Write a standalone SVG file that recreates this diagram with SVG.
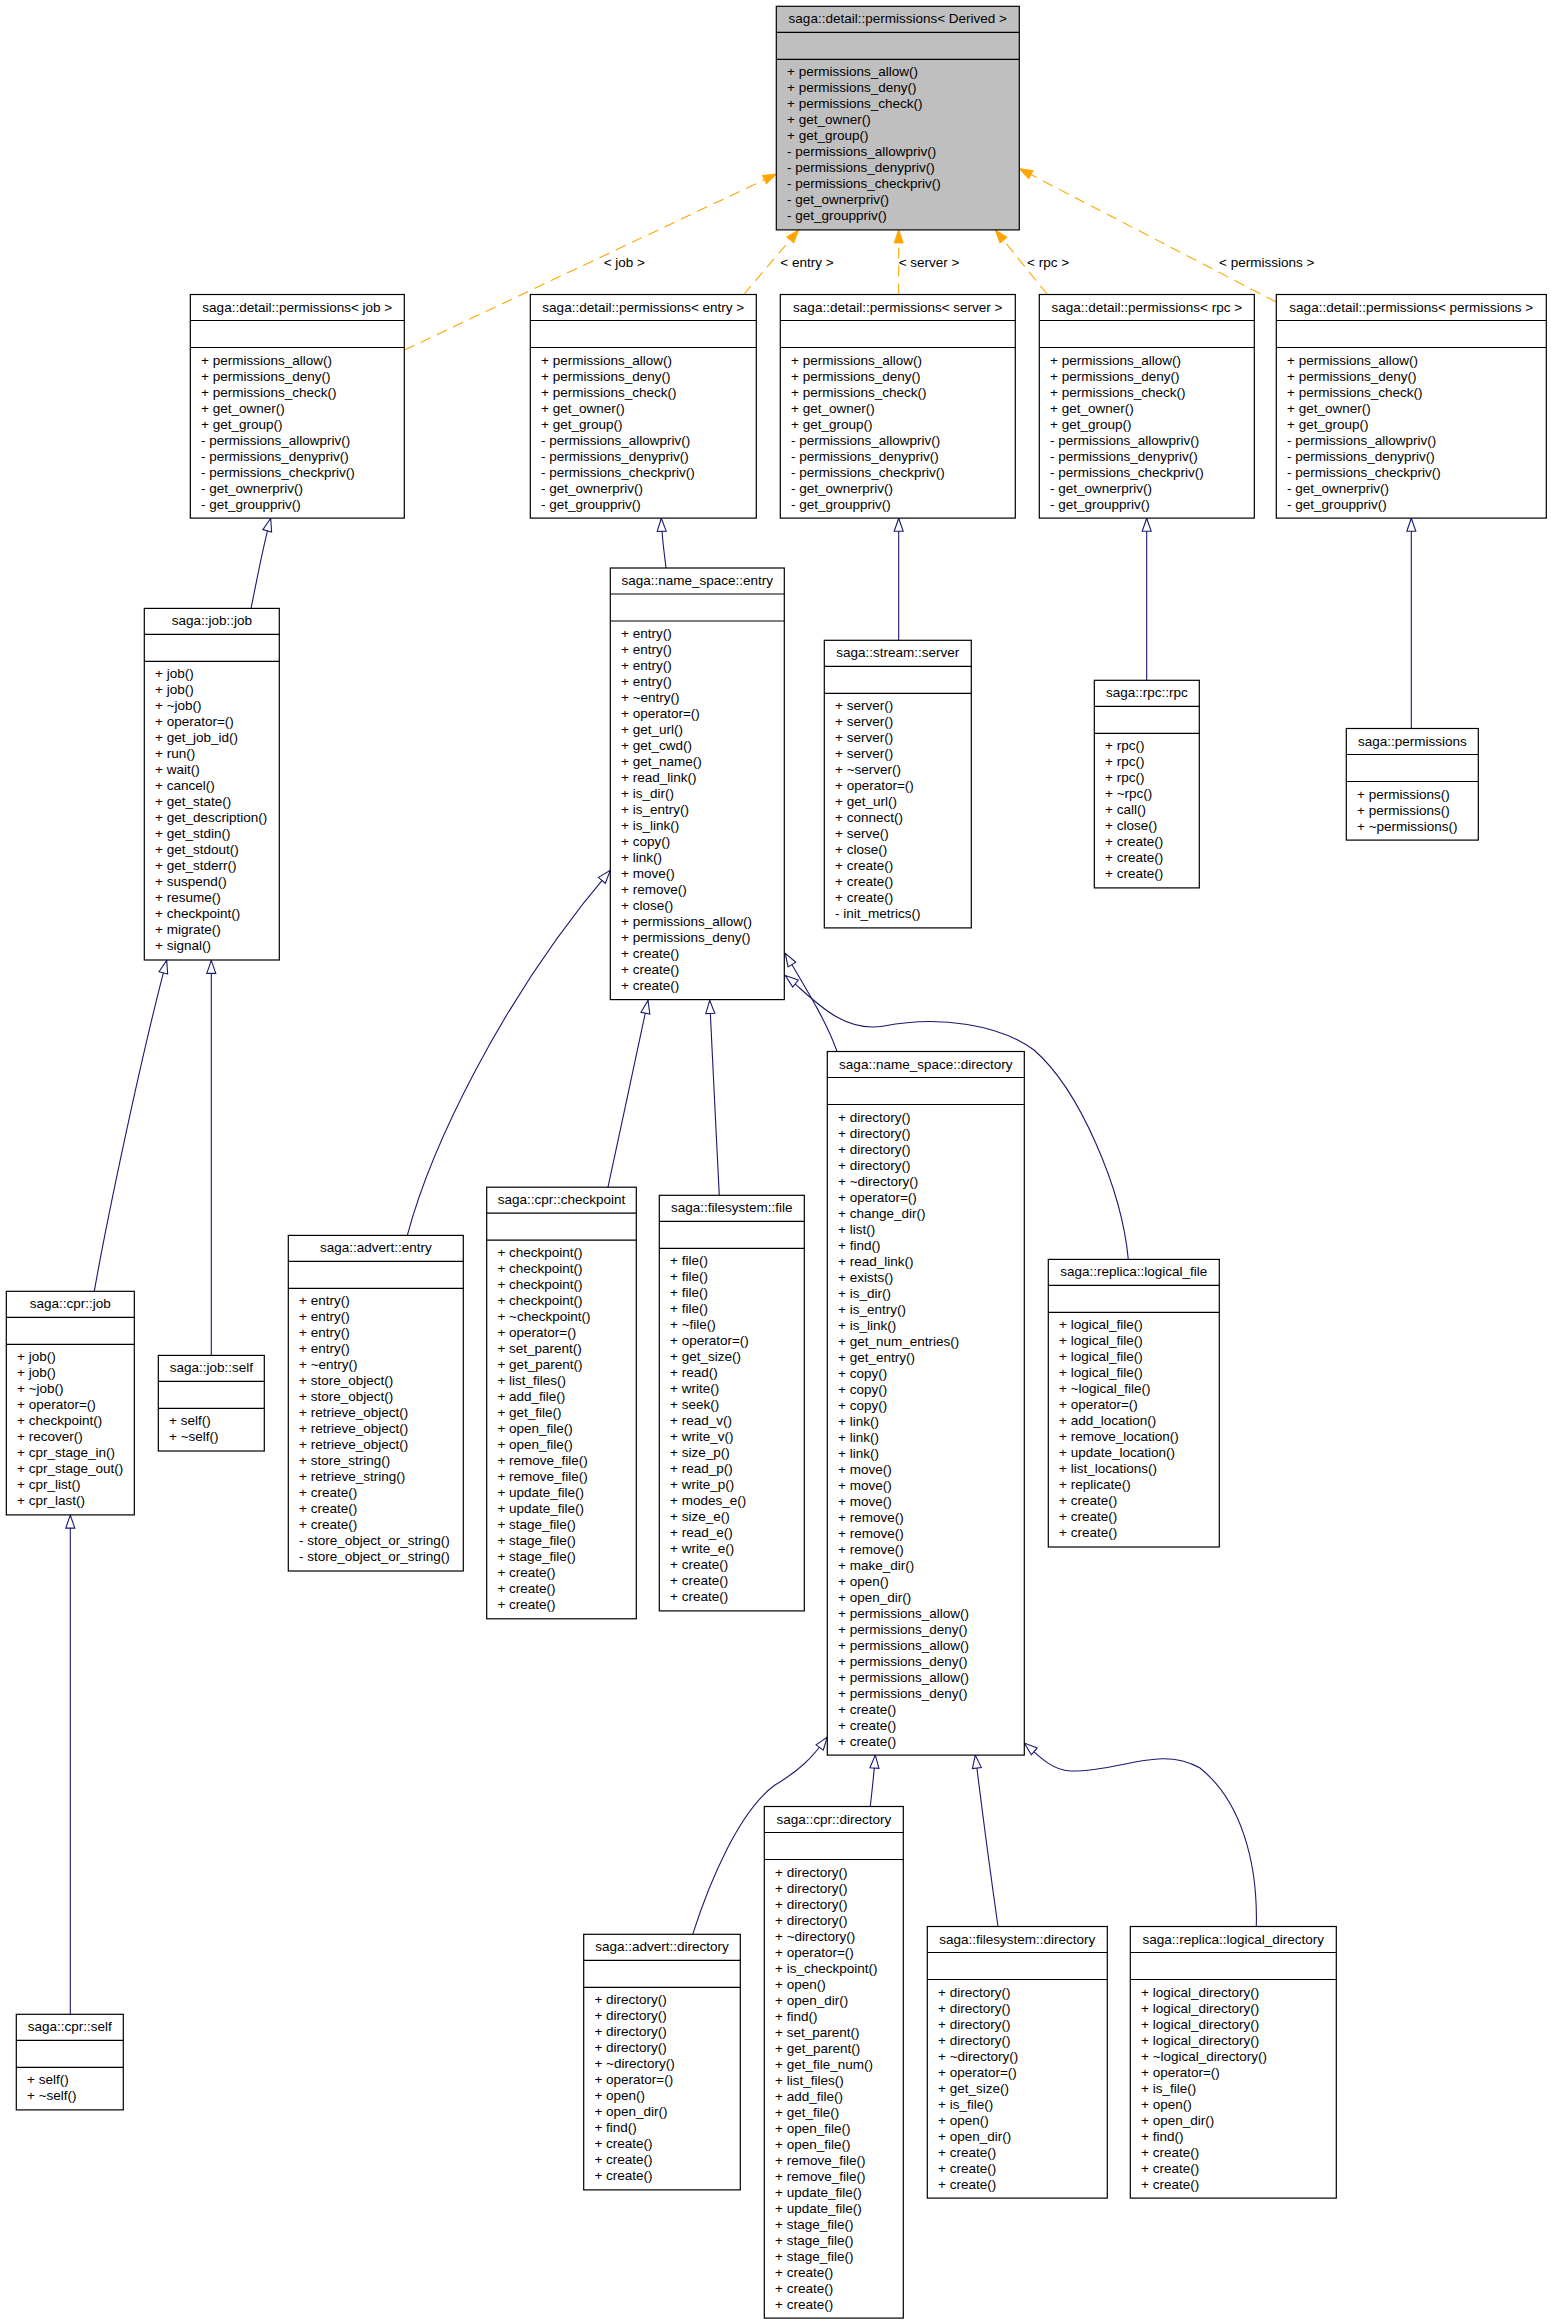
<svg xmlns="http://www.w3.org/2000/svg" width="1551" height="2323" viewBox="0 0 1551 2323">
<style>
text{font-family:"Liberation Sans",Arial,Helvetica,sans-serif;font-size:13.5px;fill:#000}
.box{fill:#fff;stroke:#000;stroke-width:1.2}
.sep{stroke:#000;stroke-width:1.2}
.t{text-anchor:middle}
.inh{fill:none;stroke:#191970;stroke-width:1.1;marker-end:url(#hollow)}
.tpl{fill:none;stroke:#ffa500;stroke-width:1.1;stroke-dasharray:11,7;marker-end:url(#filled)}
</style>
<defs>
<marker id="hollow" markerUnits="userSpaceOnUse" markerWidth="14" markerHeight="10" viewBox="0 0 14 10" refX="13" refY="5" orient="auto" overflow="visible">
<path d="M0,0.5 L13,5 L0,9.5 z" fill="#fff" stroke="#191970" stroke-width="1.1"/>
</marker>
<marker id="filled" markerUnits="userSpaceOnUse" markerWidth="14" markerHeight="10" viewBox="0 0 14 10" refX="13" refY="5" orient="auto" overflow="visible">
<path d="M0,0.5 L13,5 L0,9.5 z" fill="#ffa500" stroke="#ffa500" stroke-width="1"/>
</marker>
</defs>
<rect width="1551" height="2323" fill="#fff"/>

<g id="connectors">
<path class="tpl" d="M404.3,350.1 L776.3,174.1"/>
<path class="tpl" d="M743.7,294.5 L798.7,229.9"/>
<path class="tpl" d="M898.7,294.5 L898.7,229.9"/>
<path class="tpl" d="M1047.3,294.5 L995.3,229.9"/>
<path class="tpl" d="M1276.3,302 L1019.3,168.6"/>
<text x="603.7" y="267">&lt; job &gt;</text>
<text x="780.3" y="267">&lt; entry &gt;</text>
<text x="898.7" y="267">&lt; server &gt;</text>
<text x="1027" y="267">&lt; rpc &gt;</text>
<text x="1219" y="267">&lt; permissions &gt;</text>

<path class="inh" d="M251,608.4 C256,585 262,550 270.7,518.3"/>
<path class="inh" d="M666,568 C664,550 662,540 661.3,518.3"/>
<path class="inh" d="M898.7,640.3 L898.7,518.3"/>
<path class="inh" d="M1146.7,680.3 L1146.7,518.3"/>
<path class="inh" d="M1411.3,728.5 L1411.3,518.3"/>
<path class="inh" d="M94.3,1291.3 C105,1230 140,1060 166.7,960.4"/>
<path class="inh" d="M211.3,1355.4 L211.3,960.4"/>
<path class="inh" d="M70.3,2014.3 L70.3,1515.1"/>
<path class="inh" d="M407.3,1235.4 C430,1150 500,1000 610.3,870.4"/>
<path class="inh" d="M608,1187.2 C620,1130 640,1040 648,1000.4"/>
<path class="inh" d="M719.3,1195.3 C716,1130 712,1050 709.7,1000.4"/>
<path class="inh" d="M837,1051.5 C828,1025 810,995 785.3,953.4"/>
<path class="inh" d="M1128.3,1259.4 C1122,1190 1080,1090 1034,1050 C1000,1025 940,1015 884,1026 C840,1034 810,995 785.3,975.6"/>
<path class="inh" d="M692.7,1934.3 C710,1880 740,1810 775,1785 C800,1770 812,1758 827.3,1737"/>
<path class="inh" d="M870.3,1806.5 C872,1790 874,1775 875.3,1755.1"/>
<path class="inh" d="M998,1926.5 C990,1870 982,1810 975.3,1755.1"/>
<path class="inh" d="M1256.3,1926.5 C1258,1860 1240,1800 1200,1768 C1160,1745 1120,1772 1070,1771 C1050,1770 1035,1752 1024.3,1743"/>
</g>

<g id="n_derived">
<rect class="box" x="776.3" y="6.3" width="243" height="223.6" style="fill:#bfbfbf"/>
<line class="sep" x1="776.3" y1="32.3" x2="1019.3" y2="32.3"/>
<line class="sep" x1="776.3" y1="59.3" x2="1019.3" y2="59.3"/>
<text class="t" x="897.8" y="23.3">saga::detail::permissions&lt; Derived &gt;</text>
<text x="787" y="76.3"><tspan x="787">+ permissions_allow()</tspan><tspan x="787" dy="16">+ permissions_deny()</tspan><tspan x="787" dy="16">+ permissions_check()</tspan><tspan x="787" dy="16">+ get_owner()</tspan><tspan x="787" dy="16">+ get_group()</tspan><tspan x="787" dy="16">- permissions_allowpriv()</tspan><tspan x="787" dy="16">- permissions_denypriv()</tspan><tspan x="787" dy="16">- permissions_checkpriv()</tspan><tspan x="787" dy="16">- get_ownerpriv()</tspan><tspan x="787" dy="16">- get_grouppriv()</tspan></text>
</g>

<g id="n_perm_job">
<rect class="box" x="190.3" y="294.5" width="214" height="223.6"/>
<line class="sep" x1="190.3" y1="320.5" x2="404.3" y2="320.5"/>
<line class="sep" x1="190.3" y1="347.5" x2="404.3" y2="347.5"/>
<text class="t" x="297.3" y="311.5">saga::detail::permissions&lt; job &gt;</text>
<text x="201" y="364.5"><tspan x="201">+ permissions_allow()</tspan><tspan x="201" dy="16">+ permissions_deny()</tspan><tspan x="201" dy="16">+ permissions_check()</tspan><tspan x="201" dy="16">+ get_owner()</tspan><tspan x="201" dy="16">+ get_group()</tspan><tspan x="201" dy="16">- permissions_allowpriv()</tspan><tspan x="201" dy="16">- permissions_denypriv()</tspan><tspan x="201" dy="16">- permissions_checkpriv()</tspan><tspan x="201" dy="16">- get_ownerpriv()</tspan><tspan x="201" dy="16">- get_grouppriv()</tspan></text>
</g>

<g id="n_perm_entry">
<rect class="box" x="530.3" y="294.5" width="226" height="223.6"/>
<line class="sep" x1="530.3" y1="320.5" x2="756.3" y2="320.5"/>
<line class="sep" x1="530.3" y1="347.5" x2="756.3" y2="347.5"/>
<text class="t" x="643.3" y="311.5">saga::detail::permissions&lt; entry &gt;</text>
<text x="541" y="364.5"><tspan x="541">+ permissions_allow()</tspan><tspan x="541" dy="16">+ permissions_deny()</tspan><tspan x="541" dy="16">+ permissions_check()</tspan><tspan x="541" dy="16">+ get_owner()</tspan><tspan x="541" dy="16">+ get_group()</tspan><tspan x="541" dy="16">- permissions_allowpriv()</tspan><tspan x="541" dy="16">- permissions_denypriv()</tspan><tspan x="541" dy="16">- permissions_checkpriv()</tspan><tspan x="541" dy="16">- get_ownerpriv()</tspan><tspan x="541" dy="16">- get_grouppriv()</tspan></text>
</g>

<g id="n_perm_server">
<rect class="box" x="780.3" y="294.5" width="235" height="223.6"/>
<line class="sep" x1="780.3" y1="320.5" x2="1015.3" y2="320.5"/>
<line class="sep" x1="780.3" y1="347.5" x2="1015.3" y2="347.5"/>
<text class="t" x="897.8" y="311.5">saga::detail::permissions&lt; server &gt;</text>
<text x="791" y="364.5"><tspan x="791">+ permissions_allow()</tspan><tspan x="791" dy="16">+ permissions_deny()</tspan><tspan x="791" dy="16">+ permissions_check()</tspan><tspan x="791" dy="16">+ get_owner()</tspan><tspan x="791" dy="16">+ get_group()</tspan><tspan x="791" dy="16">- permissions_allowpriv()</tspan><tspan x="791" dy="16">- permissions_denypriv()</tspan><tspan x="791" dy="16">- permissions_checkpriv()</tspan><tspan x="791" dy="16">- get_ownerpriv()</tspan><tspan x="791" dy="16">- get_grouppriv()</tspan></text>
</g>

<g id="n_perm_rpc">
<rect class="box" x="1039.3" y="294.5" width="215" height="223.6"/>
<line class="sep" x1="1039.3" y1="320.5" x2="1254.3" y2="320.5"/>
<line class="sep" x1="1039.3" y1="347.5" x2="1254.3" y2="347.5"/>
<text class="t" x="1146.8" y="311.5">saga::detail::permissions&lt; rpc &gt;</text>
<text x="1050" y="364.5"><tspan x="1050">+ permissions_allow()</tspan><tspan x="1050" dy="16">+ permissions_deny()</tspan><tspan x="1050" dy="16">+ permissions_check()</tspan><tspan x="1050" dy="16">+ get_owner()</tspan><tspan x="1050" dy="16">+ get_group()</tspan><tspan x="1050" dy="16">- permissions_allowpriv()</tspan><tspan x="1050" dy="16">- permissions_denypriv()</tspan><tspan x="1050" dy="16">- permissions_checkpriv()</tspan><tspan x="1050" dy="16">- get_ownerpriv()</tspan><tspan x="1050" dy="16">- get_grouppriv()</tspan></text>
</g>

<g id="n_perm_permissions">
<rect class="box" x="1276.3" y="294.5" width="270" height="223.6"/>
<line class="sep" x1="1276.3" y1="320.5" x2="1546.3" y2="320.5"/>
<line class="sep" x1="1276.3" y1="347.5" x2="1546.3" y2="347.5"/>
<text class="t" x="1411.3" y="311.5">saga::detail::permissions&lt; permissions &gt;</text>
<text x="1287" y="364.5"><tspan x="1287">+ permissions_allow()</tspan><tspan x="1287" dy="16">+ permissions_deny()</tspan><tspan x="1287" dy="16">+ permissions_check()</tspan><tspan x="1287" dy="16">+ get_owner()</tspan><tspan x="1287" dy="16">+ get_group()</tspan><tspan x="1287" dy="16">- permissions_allowpriv()</tspan><tspan x="1287" dy="16">- permissions_denypriv()</tspan><tspan x="1287" dy="16">- permissions_checkpriv()</tspan><tspan x="1287" dy="16">- get_ownerpriv()</tspan><tspan x="1287" dy="16">- get_grouppriv()</tspan></text>
</g>

<g id="n_job_job">
<rect class="box" x="144.3" y="608.4" width="135" height="351.6"/>
<line class="sep" x1="144.3" y1="634.4" x2="279.3" y2="634.4"/>
<line class="sep" x1="144.3" y1="661.4" x2="279.3" y2="661.4"/>
<text class="t" x="211.8" y="625.4">saga::job::job</text>
<text x="155" y="678.4"><tspan x="155">+ job()</tspan><tspan x="155" dy="16">+ job()</tspan><tspan x="155" dy="16">+ ~job()</tspan><tspan x="155" dy="16">+ operator=()</tspan><tspan x="155" dy="16">+ get_job_id()</tspan><tspan x="155" dy="16">+ run()</tspan><tspan x="155" dy="16">+ wait()</tspan><tspan x="155" dy="16">+ cancel()</tspan><tspan x="155" dy="16">+ get_state()</tspan><tspan x="155" dy="16">+ get_description()</tspan><tspan x="155" dy="16">+ get_stdin()</tspan><tspan x="155" dy="16">+ get_stdout()</tspan><tspan x="155" dy="16">+ get_stderr()</tspan><tspan x="155" dy="16">+ suspend()</tspan><tspan x="155" dy="16">+ resume()</tspan><tspan x="155" dy="16">+ checkpoint()</tspan><tspan x="155" dy="16">+ migrate()</tspan><tspan x="155" dy="16">+ signal()</tspan></text>
</g>

<g id="n_ns_entry">
<rect class="box" x="610.3" y="568" width="174" height="431.6"/>
<line class="sep" x1="610.3" y1="594" x2="784.3" y2="594"/>
<line class="sep" x1="610.3" y1="621" x2="784.3" y2="621"/>
<text class="t" x="697.3" y="585">saga::name_space::entry</text>
<text x="621" y="638"><tspan x="621">+ entry()</tspan><tspan x="621" dy="16">+ entry()</tspan><tspan x="621" dy="16">+ entry()</tspan><tspan x="621" dy="16">+ entry()</tspan><tspan x="621" dy="16">+ ~entry()</tspan><tspan x="621" dy="16">+ operator=()</tspan><tspan x="621" dy="16">+ get_url()</tspan><tspan x="621" dy="16">+ get_cwd()</tspan><tspan x="621" dy="16">+ get_name()</tspan><tspan x="621" dy="16">+ read_link()</tspan><tspan x="621" dy="16">+ is_dir()</tspan><tspan x="621" dy="16">+ is_entry()</tspan><tspan x="621" dy="16">+ is_link()</tspan><tspan x="621" dy="16">+ copy()</tspan><tspan x="621" dy="16">+ link()</tspan><tspan x="621" dy="16">+ move()</tspan><tspan x="621" dy="16">+ remove()</tspan><tspan x="621" dy="16">+ close()</tspan><tspan x="621" dy="16">+ permissions_allow()</tspan><tspan x="621" dy="16">+ permissions_deny()</tspan><tspan x="621" dy="16">+ create()</tspan><tspan x="621" dy="16">+ create()</tspan><tspan x="621" dy="16">+ create()</tspan></text>
</g>

<g id="n_stream_server">
<rect class="box" x="824.3" y="640.3" width="147" height="287.6"/>
<line class="sep" x1="824.3" y1="666.3" x2="971.3" y2="666.3"/>
<line class="sep" x1="824.3" y1="693.3" x2="971.3" y2="693.3"/>
<text class="t" x="897.8" y="657.3">saga::stream::server</text>
<text x="835" y="710.3"><tspan x="835">+ server()</tspan><tspan x="835" dy="16">+ server()</tspan><tspan x="835" dy="16">+ server()</tspan><tspan x="835" dy="16">+ server()</tspan><tspan x="835" dy="16">+ ~server()</tspan><tspan x="835" dy="16">+ operator=()</tspan><tspan x="835" dy="16">+ get_url()</tspan><tspan x="835" dy="16">+ connect()</tspan><tspan x="835" dy="16">+ serve()</tspan><tspan x="835" dy="16">+ close()</tspan><tspan x="835" dy="16">+ create()</tspan><tspan x="835" dy="16">+ create()</tspan><tspan x="835" dy="16">+ create()</tspan><tspan x="835" dy="16">- init_metrics()</tspan></text>
</g>

<g id="n_rpc_rpc">
<rect class="box" x="1094.3" y="680.3" width="105" height="207.6"/>
<line class="sep" x1="1094.3" y1="706.3" x2="1199.3" y2="706.3"/>
<line class="sep" x1="1094.3" y1="733.3" x2="1199.3" y2="733.3"/>
<text class="t" x="1146.8" y="697.3">saga::rpc::rpc</text>
<text x="1105" y="750.3"><tspan x="1105">+ rpc()</tspan><tspan x="1105" dy="16">+ rpc()</tspan><tspan x="1105" dy="16">+ rpc()</tspan><tspan x="1105" dy="16">+ ~rpc()</tspan><tspan x="1105" dy="16">+ call()</tspan><tspan x="1105" dy="16">+ close()</tspan><tspan x="1105" dy="16">+ create()</tspan><tspan x="1105" dy="16">+ create()</tspan><tspan x="1105" dy="16">+ create()</tspan></text>
</g>

<g id="n_permissions">
<rect class="box" x="1346.3" y="728.5" width="132" height="111.6"/>
<line class="sep" x1="1346.3" y1="754.5" x2="1478.3" y2="754.5"/>
<line class="sep" x1="1346.3" y1="781.5" x2="1478.3" y2="781.5"/>
<text class="t" x="1412.3" y="745.5">saga::permissions</text>
<text x="1357" y="798.5"><tspan x="1357">+ permissions()</tspan><tspan x="1357" dy="16">+ permissions()</tspan><tspan x="1357" dy="16">+ ~permissions()</tspan></text>
</g>

<g id="n_cpr_job">
<rect class="box" x="6.3" y="1291.3" width="128" height="223.6"/>
<line class="sep" x1="6.3" y1="1317.3" x2="134.3" y2="1317.3"/>
<line class="sep" x1="6.3" y1="1344.3" x2="134.3" y2="1344.3"/>
<text class="t" x="70.3" y="1308.3">saga::cpr::job</text>
<text x="17" y="1361.3"><tspan x="17">+ job()</tspan><tspan x="17" dy="16">+ job()</tspan><tspan x="17" dy="16">+ ~job()</tspan><tspan x="17" dy="16">+ operator=()</tspan><tspan x="17" dy="16">+ checkpoint()</tspan><tspan x="17" dy="16">+ recover()</tspan><tspan x="17" dy="16">+ cpr_stage_in()</tspan><tspan x="17" dy="16">+ cpr_stage_out()</tspan><tspan x="17" dy="16">+ cpr_list()</tspan><tspan x="17" dy="16">+ cpr_last()</tspan></text>
</g>

<g id="n_job_self">
<rect class="box" x="158.3" y="1355.4" width="106" height="95.6"/>
<line class="sep" x1="158.3" y1="1381.4" x2="264.3" y2="1381.4"/>
<line class="sep" x1="158.3" y1="1408.4" x2="264.3" y2="1408.4"/>
<text class="t" x="211.3" y="1372.4">saga::job::self</text>
<text x="169" y="1425.4"><tspan x="169">+ self()</tspan><tspan x="169" dy="16">+ ~self()</tspan></text>
</g>

<g id="n_advert_entry">
<rect class="box" x="288.3" y="1235.4" width="175" height="335.6"/>
<line class="sep" x1="288.3" y1="1261.4" x2="463.3" y2="1261.4"/>
<line class="sep" x1="288.3" y1="1288.4" x2="463.3" y2="1288.4"/>
<text class="t" x="375.8" y="1252.4">saga::advert::entry</text>
<text x="299" y="1305.4"><tspan x="299">+ entry()</tspan><tspan x="299" dy="16">+ entry()</tspan><tspan x="299" dy="16">+ entry()</tspan><tspan x="299" dy="16">+ entry()</tspan><tspan x="299" dy="16">+ ~entry()</tspan><tspan x="299" dy="16">+ store_object()</tspan><tspan x="299" dy="16">+ store_object()</tspan><tspan x="299" dy="16">+ retrieve_object()</tspan><tspan x="299" dy="16">+ retrieve_object()</tspan><tspan x="299" dy="16">+ retrieve_object()</tspan><tspan x="299" dy="16">+ store_string()</tspan><tspan x="299" dy="16">+ retrieve_string()</tspan><tspan x="299" dy="16">+ create()</tspan><tspan x="299" dy="16">+ create()</tspan><tspan x="299" dy="16">+ create()</tspan><tspan x="299" dy="16">- store_object_or_string()</tspan><tspan x="299" dy="16">- store_object_or_string()</tspan></text>
</g>

<g id="n_cpr_checkpoint">
<rect class="box" x="486.7" y="1187.2" width="149.6" height="431.6"/>
<line class="sep" x1="486.7" y1="1213.2" x2="636.3" y2="1213.2"/>
<line class="sep" x1="486.7" y1="1240.2" x2="636.3" y2="1240.2"/>
<text class="t" x="561.5" y="1204.2">saga::cpr::checkpoint</text>
<text x="497.4" y="1257.2"><tspan x="497.4">+ checkpoint()</tspan><tspan x="497.4" dy="16">+ checkpoint()</tspan><tspan x="497.4" dy="16">+ checkpoint()</tspan><tspan x="497.4" dy="16">+ checkpoint()</tspan><tspan x="497.4" dy="16">+ ~checkpoint()</tspan><tspan x="497.4" dy="16">+ operator=()</tspan><tspan x="497.4" dy="16">+ set_parent()</tspan><tspan x="497.4" dy="16">+ get_parent()</tspan><tspan x="497.4" dy="16">+ list_files()</tspan><tspan x="497.4" dy="16">+ add_file()</tspan><tspan x="497.4" dy="16">+ get_file()</tspan><tspan x="497.4" dy="16">+ open_file()</tspan><tspan x="497.4" dy="16">+ open_file()</tspan><tspan x="497.4" dy="16">+ remove_file()</tspan><tspan x="497.4" dy="16">+ remove_file()</tspan><tspan x="497.4" dy="16">+ update_file()</tspan><tspan x="497.4" dy="16">+ update_file()</tspan><tspan x="497.4" dy="16">+ stage_file()</tspan><tspan x="497.4" dy="16">+ stage_file()</tspan><tspan x="497.4" dy="16">+ stage_file()</tspan><tspan x="497.4" dy="16">+ create()</tspan><tspan x="497.4" dy="16">+ create()</tspan><tspan x="497.4" dy="16">+ create()</tspan></text>
</g>

<g id="n_fs_file">
<rect class="box" x="659.3" y="1195.3" width="145" height="415.6"/>
<line class="sep" x1="659.3" y1="1221.3" x2="804.3" y2="1221.3"/>
<line class="sep" x1="659.3" y1="1248.3" x2="804.3" y2="1248.3"/>
<text class="t" x="731.8" y="1212.3">saga::filesystem::file</text>
<text x="670" y="1265.3"><tspan x="670">+ file()</tspan><tspan x="670" dy="16">+ file()</tspan><tspan x="670" dy="16">+ file()</tspan><tspan x="670" dy="16">+ file()</tspan><tspan x="670" dy="16">+ ~file()</tspan><tspan x="670" dy="16">+ operator=()</tspan><tspan x="670" dy="16">+ get_size()</tspan><tspan x="670" dy="16">+ read()</tspan><tspan x="670" dy="16">+ write()</tspan><tspan x="670" dy="16">+ seek()</tspan><tspan x="670" dy="16">+ read_v()</tspan><tspan x="670" dy="16">+ write_v()</tspan><tspan x="670" dy="16">+ size_p()</tspan><tspan x="670" dy="16">+ read_p()</tspan><tspan x="670" dy="16">+ write_p()</tspan><tspan x="670" dy="16">+ modes_e()</tspan><tspan x="670" dy="16">+ size_e()</tspan><tspan x="670" dy="16">+ read_e()</tspan><tspan x="670" dy="16">+ write_e()</tspan><tspan x="670" dy="16">+ create()</tspan><tspan x="670" dy="16">+ create()</tspan><tspan x="670" dy="16">+ create()</tspan></text>
</g>

<g id="n_ns_directory">
<rect class="box" x="827.3" y="1051.5" width="197" height="703.6"/>
<line class="sep" x1="827.3" y1="1077.5" x2="1024.3" y2="1077.5"/>
<line class="sep" x1="827.3" y1="1104.5" x2="1024.3" y2="1104.5"/>
<text class="t" x="925.8" y="1068.5">saga::name_space::directory</text>
<text x="838" y="1121.5"><tspan x="838">+ directory()</tspan><tspan x="838" dy="16">+ directory()</tspan><tspan x="838" dy="16">+ directory()</tspan><tspan x="838" dy="16">+ directory()</tspan><tspan x="838" dy="16">+ ~directory()</tspan><tspan x="838" dy="16">+ operator=()</tspan><tspan x="838" dy="16">+ change_dir()</tspan><tspan x="838" dy="16">+ list()</tspan><tspan x="838" dy="16">+ find()</tspan><tspan x="838" dy="16">+ read_link()</tspan><tspan x="838" dy="16">+ exists()</tspan><tspan x="838" dy="16">+ is_dir()</tspan><tspan x="838" dy="16">+ is_entry()</tspan><tspan x="838" dy="16">+ is_link()</tspan><tspan x="838" dy="16">+ get_num_entries()</tspan><tspan x="838" dy="16">+ get_entry()</tspan><tspan x="838" dy="16">+ copy()</tspan><tspan x="838" dy="16">+ copy()</tspan><tspan x="838" dy="16">+ copy()</tspan><tspan x="838" dy="16">+ link()</tspan><tspan x="838" dy="16">+ link()</tspan><tspan x="838" dy="16">+ link()</tspan><tspan x="838" dy="16">+ move()</tspan><tspan x="838" dy="16">+ move()</tspan><tspan x="838" dy="16">+ move()</tspan><tspan x="838" dy="16">+ remove()</tspan><tspan x="838" dy="16">+ remove()</tspan><tspan x="838" dy="16">+ remove()</tspan><tspan x="838" dy="16">+ make_dir()</tspan><tspan x="838" dy="16">+ open()</tspan><tspan x="838" dy="16">+ open_dir()</tspan><tspan x="838" dy="16">+ permissions_allow()</tspan><tspan x="838" dy="16">+ permissions_deny()</tspan><tspan x="838" dy="16">+ permissions_allow()</tspan><tspan x="838" dy="16">+ permissions_deny()</tspan><tspan x="838" dy="16">+ permissions_allow()</tspan><tspan x="838" dy="16">+ permissions_deny()</tspan><tspan x="838" dy="16">+ create()</tspan><tspan x="838" dy="16">+ create()</tspan><tspan x="838" dy="16">+ create()</tspan></text>
</g>

<g id="n_replica_logical_file">
<rect class="box" x="1048.3" y="1259.4" width="171" height="287.6"/>
<line class="sep" x1="1048.3" y1="1285.4" x2="1219.3" y2="1285.4"/>
<line class="sep" x1="1048.3" y1="1312.4" x2="1219.3" y2="1312.4"/>
<text class="t" x="1133.8" y="1276.4">saga::replica::logical_file</text>
<text x="1059" y="1329.4"><tspan x="1059">+ logical_file()</tspan><tspan x="1059" dy="16">+ logical_file()</tspan><tspan x="1059" dy="16">+ logical_file()</tspan><tspan x="1059" dy="16">+ logical_file()</tspan><tspan x="1059" dy="16">+ ~logical_file()</tspan><tspan x="1059" dy="16">+ operator=()</tspan><tspan x="1059" dy="16">+ add_location()</tspan><tspan x="1059" dy="16">+ remove_location()</tspan><tspan x="1059" dy="16">+ update_location()</tspan><tspan x="1059" dy="16">+ list_locations()</tspan><tspan x="1059" dy="16">+ replicate()</tspan><tspan x="1059" dy="16">+ create()</tspan><tspan x="1059" dy="16">+ create()</tspan><tspan x="1059" dy="16">+ create()</tspan></text>
</g>

<g id="n_cpr_self">
<rect class="box" x="16.3" y="2014.3" width="107" height="95.6"/>
<line class="sep" x1="16.3" y1="2040.3" x2="123.3" y2="2040.3"/>
<line class="sep" x1="16.3" y1="2067.3" x2="123.3" y2="2067.3"/>
<text class="t" x="69.8" y="2031.3">saga::cpr::self</text>
<text x="27" y="2084.3"><tspan x="27">+ self()</tspan><tspan x="27" dy="16">+ ~self()</tspan></text>
</g>

<g id="n_advert_directory">
<rect class="box" x="583.7" y="1934.3" width="156.6" height="255.6"/>
<line class="sep" x1="583.7" y1="1960.3" x2="740.3" y2="1960.3"/>
<line class="sep" x1="583.7" y1="1987.3" x2="740.3" y2="1987.3"/>
<text class="t" x="662" y="1951.3">saga::advert::directory</text>
<text x="594.4" y="2004.3"><tspan x="594.4">+ directory()</tspan><tspan x="594.4" dy="16">+ directory()</tspan><tspan x="594.4" dy="16">+ directory()</tspan><tspan x="594.4" dy="16">+ directory()</tspan><tspan x="594.4" dy="16">+ ~directory()</tspan><tspan x="594.4" dy="16">+ operator=()</tspan><tspan x="594.4" dy="16">+ open()</tspan><tspan x="594.4" dy="16">+ open_dir()</tspan><tspan x="594.4" dy="16">+ find()</tspan><tspan x="594.4" dy="16">+ create()</tspan><tspan x="594.4" dy="16">+ create()</tspan><tspan x="594.4" dy="16">+ create()</tspan></text>
</g>

<g id="n_cpr_directory">
<rect class="box" x="764.3" y="1806.5" width="139" height="511.6"/>
<line class="sep" x1="764.3" y1="1832.5" x2="903.3" y2="1832.5"/>
<line class="sep" x1="764.3" y1="1859.5" x2="903.3" y2="1859.5"/>
<text class="t" x="833.8" y="1823.5">saga::cpr::directory</text>
<text x="775" y="1876.5"><tspan x="775">+ directory()</tspan><tspan x="775" dy="16">+ directory()</tspan><tspan x="775" dy="16">+ directory()</tspan><tspan x="775" dy="16">+ directory()</tspan><tspan x="775" dy="16">+ ~directory()</tspan><tspan x="775" dy="16">+ operator=()</tspan><tspan x="775" dy="16">+ is_checkpoint()</tspan><tspan x="775" dy="16">+ open()</tspan><tspan x="775" dy="16">+ open_dir()</tspan><tspan x="775" dy="16">+ find()</tspan><tspan x="775" dy="16">+ set_parent()</tspan><tspan x="775" dy="16">+ get_parent()</tspan><tspan x="775" dy="16">+ get_file_num()</tspan><tspan x="775" dy="16">+ list_files()</tspan><tspan x="775" dy="16">+ add_file()</tspan><tspan x="775" dy="16">+ get_file()</tspan><tspan x="775" dy="16">+ open_file()</tspan><tspan x="775" dy="16">+ open_file()</tspan><tspan x="775" dy="16">+ remove_file()</tspan><tspan x="775" dy="16">+ remove_file()</tspan><tspan x="775" dy="16">+ update_file()</tspan><tspan x="775" dy="16">+ update_file()</tspan><tspan x="775" dy="16">+ stage_file()</tspan><tspan x="775" dy="16">+ stage_file()</tspan><tspan x="775" dy="16">+ stage_file()</tspan><tspan x="775" dy="16">+ create()</tspan><tspan x="775" dy="16">+ create()</tspan><tspan x="775" dy="16">+ create()</tspan></text>
</g>

<g id="n_fs_directory">
<rect class="box" x="927.3" y="1926.5" width="180" height="271.6"/>
<line class="sep" x1="927.3" y1="1952.5" x2="1107.3" y2="1952.5"/>
<line class="sep" x1="927.3" y1="1979.5" x2="1107.3" y2="1979.5"/>
<text class="t" x="1017.3" y="1943.5">saga::filesystem::directory</text>
<text x="938" y="1996.5"><tspan x="938">+ directory()</tspan><tspan x="938" dy="16">+ directory()</tspan><tspan x="938" dy="16">+ directory()</tspan><tspan x="938" dy="16">+ directory()</tspan><tspan x="938" dy="16">+ ~directory()</tspan><tspan x="938" dy="16">+ operator=()</tspan><tspan x="938" dy="16">+ get_size()</tspan><tspan x="938" dy="16">+ is_file()</tspan><tspan x="938" dy="16">+ open()</tspan><tspan x="938" dy="16">+ open_dir()</tspan><tspan x="938" dy="16">+ create()</tspan><tspan x="938" dy="16">+ create()</tspan><tspan x="938" dy="16">+ create()</tspan></text>
</g>

<g id="n_replica_logical_directory">
<rect class="box" x="1130.3" y="1926.5" width="206" height="271.6"/>
<line class="sep" x1="1130.3" y1="1952.5" x2="1336.3" y2="1952.5"/>
<line class="sep" x1="1130.3" y1="1979.5" x2="1336.3" y2="1979.5"/>
<text class="t" x="1233.3" y="1943.5">saga::replica::logical_directory</text>
<text x="1141" y="1996.5"><tspan x="1141">+ logical_directory()</tspan><tspan x="1141" dy="16">+ logical_directory()</tspan><tspan x="1141" dy="16">+ logical_directory()</tspan><tspan x="1141" dy="16">+ logical_directory()</tspan><tspan x="1141" dy="16">+ ~logical_directory()</tspan><tspan x="1141" dy="16">+ operator=()</tspan><tspan x="1141" dy="16">+ is_file()</tspan><tspan x="1141" dy="16">+ open()</tspan><tspan x="1141" dy="16">+ open_dir()</tspan><tspan x="1141" dy="16">+ find()</tspan><tspan x="1141" dy="16">+ create()</tspan><tspan x="1141" dy="16">+ create()</tspan><tspan x="1141" dy="16">+ create()</tspan></text>
</g>
</svg>
